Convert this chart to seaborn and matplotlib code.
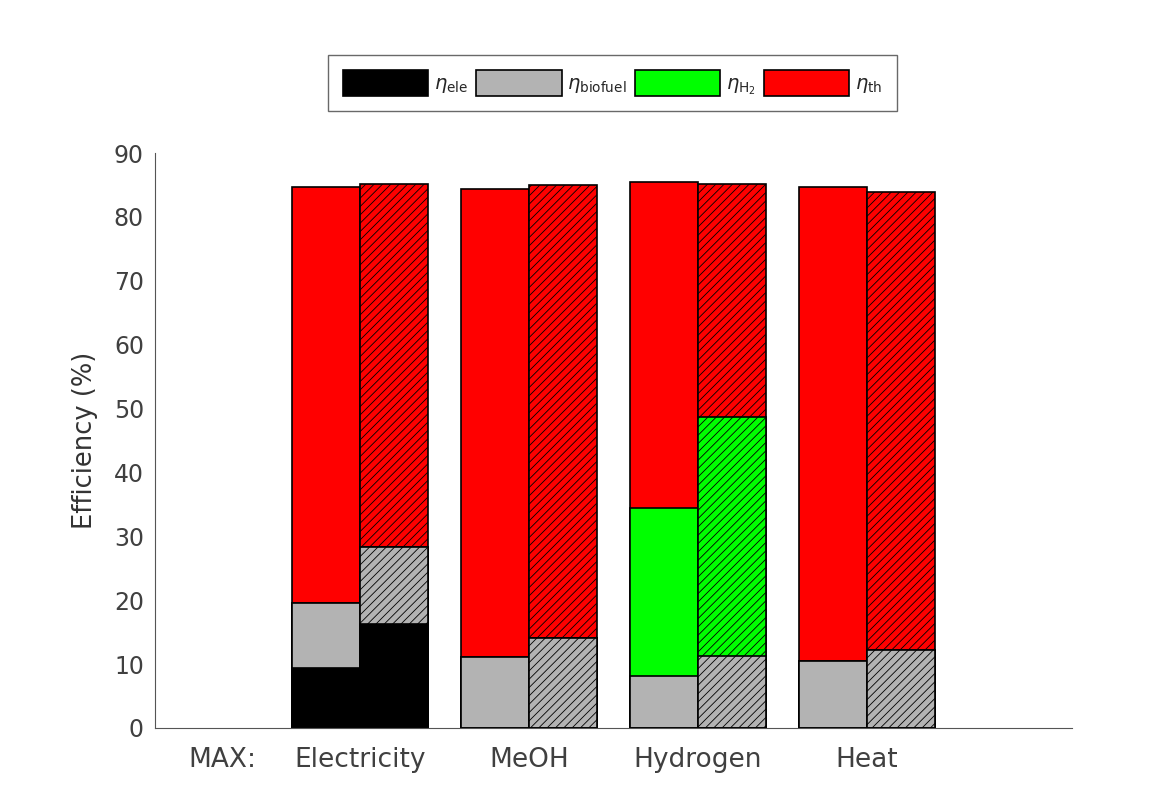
import pandas as pd
import matplotlib.pyplot as plt
import matplotlib.patches as mpatches
import seaborn as sns

# values (%), solid bars = case A, hatched bars = case B
categories = ['Electricity', 'MeOH', 'Hydrogen', 'Heat']
cases = ['A', 'B']

eta_ele_a = [9.4, 0.0, 0.0, 0.0]
eta_ele_b = [16.3, 0.0, 0.0, 0.0]
eta_bio_a = [10.2, 11.1, 8.1, 10.5]
eta_bio_b = [12.0, 14.1, 11.3, 12.2]
eta_h2_a = [0.0, 0.0, 26.3, 0.0]
eta_h2_b = [0.0, 0.0, 37.4, 0.0]
eta_th_a = [65.1, 73.3, 51.1, 74.2]
eta_th_b = [56.8, 70.9, 36.4, 71.7]

layers = ['ele', 'bio', 'h2', 'th']
colors = {'ele': '#000000', 'bio': '#b3b3b3', 'h2': '#00ff00', 'th': '#ff0000'}
labels = [r'$\eta_{\mathrm{ele}}$', r'$\eta_{\mathrm{biofuel}}$',
          r'$\eta_{\mathrm{H}_2}$', r'$\eta_{\mathrm{th}}$']

df = pd.DataFrame({
    'category': categories * 2,
    'case': ['A'] * 4 + ['B'] * 4,
    'ele': eta_ele_a + eta_ele_b,
    'bio': eta_bio_a + eta_bio_b,
    'h2': eta_h2_a + eta_h2_b,
    'th': eta_th_a + eta_th_b,
})
# cumulative heights for the stacked look
cum = df[layers].cumsum(axis=1)
for l in layers:
    df['cum_' + l] = cum[l]

sns.set_style('white')
plt.rcParams['font.family'] = ['DejaVu Sans']
plt.rcParams['mathtext.fontset'] = 'dejavusans'
plt.rcParams['hatch.linewidth'] = 0.6

fig = plt.figure(figsize=(11.69, 7.99), dpi=100)
ax = fig.add_axes([0.1326, 0.0889, 0.7844, 0.7196])

# draw from the top layer down so each lower segment covers the one above
for l in reversed(layers):
    sns.barplot(data=df, x='category', y='cum_' + l, hue='case',
                order=categories, hue_order=cases,
                palette={'A': colors[l], 'B': colors[l]},
                width=0.81, saturation=1, errorbar=None, legend=False,
                edgecolor='black', linewidth=1.2, ax=ax)

# hatch the second case of every layer
for i, cont in enumerate(ax.containers):
    if i % 2 == 1:
        for p in cont.patches:
            p.set_hatch('////')

ax.set_xlim(-1.213, 4.213)
ax.set_ylim(0, 90)
ax.set_yticks(range(0, 91, 10))
ax.set_xticks([-0.817, 0, 1, 2, 3])
ax.set_xticklabels(['MAX:'] + categories)
ax.set_xlabel('')
ax.set_ylabel('Efficiency (%)', fontsize=18.5, color='#333333')
ax.yaxis.set_label_coords(-0.062, 0.5)

for side in ['top', 'right']:
    ax.spines[side].set_visible(False)
for side in ['left', 'bottom']:
    ax.spines[side].set_color('#555555')
    ax.spines[side].set_linewidth(0.8)

ax.tick_params(axis='x', length=0, pad=14, labelsize=19, labelcolor='#404040')
ax.tick_params(axis='y', direction='in', length=4, width=0.8, color='#555555',
               pad=8, labelsize=17, labelcolor='#404040')

handles = [mpatches.Patch(facecolor=colors[l], edgecolor='black', linewidth=1.2)
           for l in layers]
leg = fig.legend(handles, labels, loc='center', bbox_to_anchor=(0.524, 0.896),
                 ncol=4, fontsize=14, frameon=True, fancybox=False,
                 handlelength=4.4, handleheight=1.7, handletextpad=0.3,
                 columnspacing=0.4, borderpad=0.75)
leg.get_frame().set_edgecolor('#444444')
leg.get_frame().set_linewidth(1.0)

fig.savefig('out.png', dpi=100)
